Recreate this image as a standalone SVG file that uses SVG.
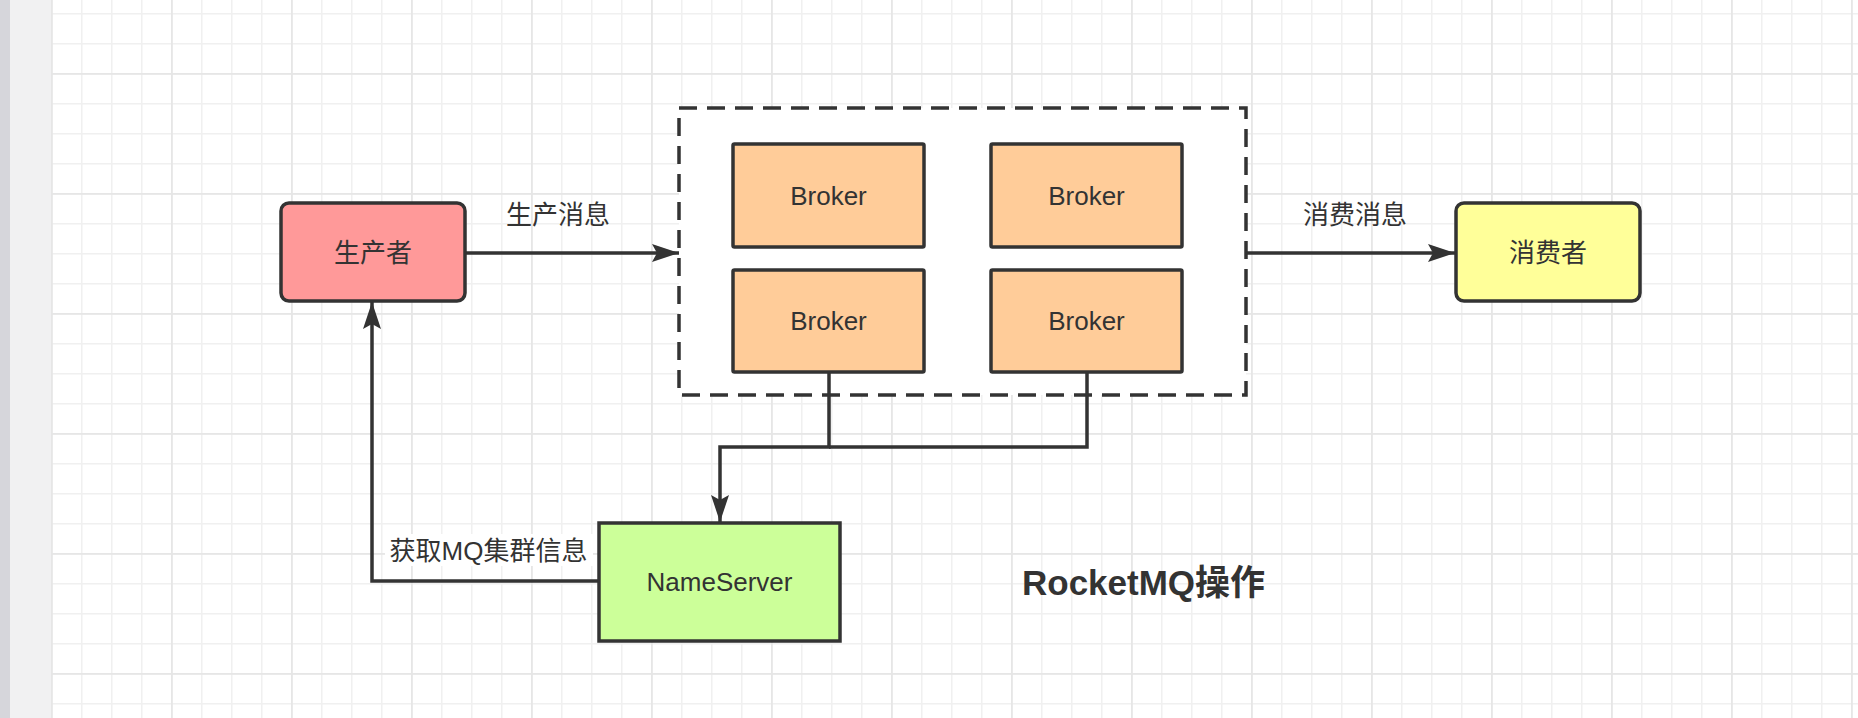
<svg xmlns="http://www.w3.org/2000/svg" width="1858" height="718" viewBox="0 0 1858 718">
<defs>
<pattern id="minor" x="51" y="13" width="30" height="30" patternUnits="userSpaceOnUse">
<path d="M0.5 0 V30 M0 0.5 H30" fill="none" stroke="#f0f0f0" stroke-width="2"/>
</pattern>
<pattern id="major" x="51" y="73" width="120" height="120" patternUnits="userSpaceOnUse">
<path d="M0.5 0 V120 M0 0.5 H120" fill="none" stroke="#e6e6e6" stroke-width="2.5"/>
</pattern>
<marker id="arr" markerUnits="userSpaceOnUse" markerWidth="28" markerHeight="20" refX="27" refY="9" orient="auto" viewBox="0 0 28 20">
<path d="M0,0 L27,9 L0,18 L5,9 z" fill="#333333"/>
</marker>
</defs>
<style>
.node{stroke:#333333;stroke-width:3.5}
.lbl{font-family:"Liberation Sans","Noto Sans CJK SC",sans-serif;font-size:26px;fill:#333333;text-anchor:middle}
.conn{fill:none;stroke:#333333;stroke-width:3.5}
</style>
<rect width="1858" height="718" fill="#ffffff"/>
<rect x="51" y="0" width="1807" height="718" fill="url(#minor)"/>
<rect x="51" y="0" width="1807" height="718" fill="url(#major)"/>
<rect x="0" y="0" width="51" height="718" fill="#f1f1f2"/>
<rect x="0" y="0" width="10" height="718" fill="#d6d6db"/>

<g id="cluster">
<rect x="679" y="108" width="567" height="287" fill="#ffffff" stroke="#333333" stroke-width="3.5" stroke-dasharray="18 10"/>
</g>

<g id="connectors">
<line class="conn" x1="465" y1="253" x2="679" y2="253" marker-end="url(#arr)"/>
<line class="conn" x1="1246" y1="253" x2="1455" y2="253" marker-end="url(#arr)"/>
<path class="conn" d="M829,372 V447 H720 V522" marker-end="url(#arr)"/>
<path class="conn" d="M1087,372 V447 H829"/>
<path class="conn" d="M599,581 H372 V302" marker-end="url(#arr)"/>
</g>

<g id="label-produce"><text class="lbl" x="558" y="223.5">生产消息</text></g>
<g id="label-consume"><text class="lbl" x="1355" y="223.5">消费消息</text></g>
<g id="label-fetch">
<rect x="385" y="534" width="208" height="32" fill="#ffffff"/>
<text class="lbl" x="488.5" y="559.5">获取MQ集群信息</text>
</g>

<g id="producer">
<rect class="node" x="281" y="203" width="184" height="98" rx="8" fill="#ff9999"/>
<text class="lbl" x="373" y="261.5">生产者</text>
</g>
<g id="consumer">
<rect class="node" x="1456" y="203" width="184" height="98" rx="8" fill="#ffff99"/>
<text class="lbl" x="1548" y="261.5">消费者</text>
</g>
<g id="broker1">
<rect class="node" x="733" y="144" width="191" height="103" rx="1.5" fill="#ffcc99"/>
<text class="lbl" x="828.5" y="205">Broker</text>
</g>
<g id="broker2">
<rect class="node" x="991" y="144" width="191" height="103" rx="1.5" fill="#ffcc99"/>
<text class="lbl" x="1086.5" y="205">Broker</text>
</g>
<g id="broker3">
<rect class="node" x="733" y="270" width="191" height="102" rx="1.5" fill="#ffcc99"/>
<text class="lbl" x="828.5" y="330">Broker</text>
</g>
<g id="broker4">
<rect class="node" x="991" y="270" width="191" height="102" rx="1.5" fill="#ffcc99"/>
<text class="lbl" x="1086.5" y="330">Broker</text>
</g>
<g id="nameserver">
<rect class="node" x="599" y="523" width="241" height="118" fill="#ccff99"/>
<text class="lbl" x="719.5" y="591">NameServer</text>
</g>
<g id="title">
<text x="1022" y="595" font-family="'Liberation Sans','Noto Sans CJK SC',sans-serif" font-size="35" font-weight="bold" fill="#333333">RocketMQ操作</text>
</g>
</svg>
